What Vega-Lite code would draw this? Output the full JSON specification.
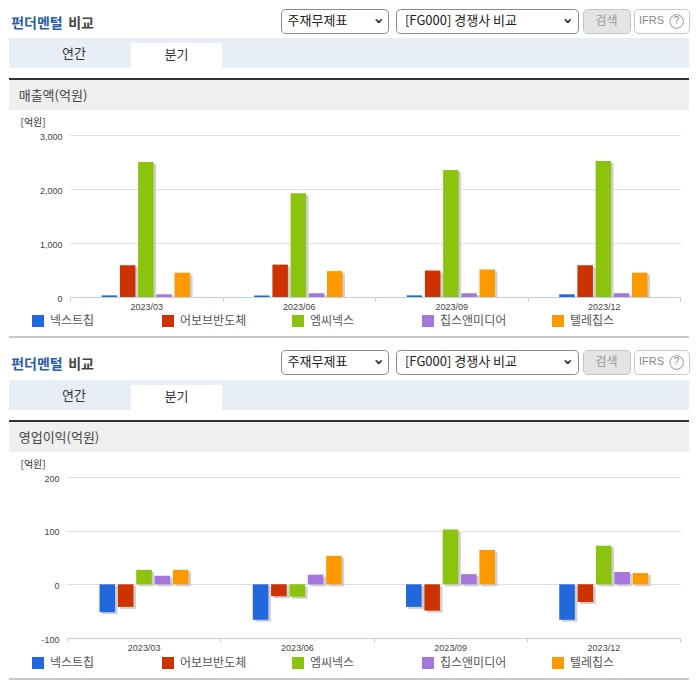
{"$schema":"https://vega.github.io/schema/vega-lite/v6.json","padding":0,"background":"white","spacing":0,"config":{"view":{"stroke":null},"concat":{"spacing":0},"text":{"font":"Noto Sans CJK KR","fontSize":1}},"datasets":{"blank":[{"t":""}],"sales":[{"q":"2023/03","company":"넥스트칩","value":30},{"q":"2023/03","company":"어보브반도체","value":590},{"q":"2023/03","company":"엠씨넥스","value":2500},{"q":"2023/03","company":"칩스앤미디어","value":50},{"q":"2023/03","company":"텔레칩스","value":450},{"q":"2023/06","company":"넥스트칩","value":30},{"q":"2023/06","company":"어보브반도체","value":600},{"q":"2023/06","company":"엠씨넥스","value":1920},{"q":"2023/06","company":"칩스앤미디어","value":70},{"q":"2023/06","company":"텔레칩스","value":480},{"q":"2023/09","company":"넥스트칩","value":30},{"q":"2023/09","company":"어보브반도체","value":490},{"q":"2023/09","company":"엠씨넥스","value":2350},{"q":"2023/09","company":"칩스앤미디어","value":70},{"q":"2023/09","company":"텔레칩스","value":510},{"q":"2023/12","company":"넥스트칩","value":50},{"q":"2023/12","company":"어보브반도체","value":590},{"q":"2023/12","company":"엠씨넥스","value":2520},{"q":"2023/12","company":"칩스앤미디어","value":70},{"q":"2023/12","company":"텔레칩스","value":450}],"profit":[{"q":"2023/03","company":"넥스트칩","value":-52},{"q":"2023/03","company":"어보브반도체","value":-42},{"q":"2023/03","company":"엠씨넥스","value":27},{"q":"2023/03","company":"칩스앤미디어","value":16},{"q":"2023/03","company":"텔레칩스","value":27},{"q":"2023/06","company":"넥스트칩","value":-66},{"q":"2023/06","company":"어보브반도체","value":-22},{"q":"2023/06","company":"엠씨넥스","value":-23},{"q":"2023/06","company":"칩스앤미디어","value":18},{"q":"2023/06","company":"텔레칩스","value":53},{"q":"2023/09","company":"넥스트칩","value":-42},{"q":"2023/09","company":"어보브반도체","value":-49},{"q":"2023/09","company":"엠씨넥스","value":102},{"q":"2023/09","company":"칩스앤미디어","value":19},{"q":"2023/09","company":"텔레칩스","value":64},{"q":"2023/12","company":"넥스트칩","value":-66},{"q":"2023/12","company":"어보브반도체","value":-33},{"q":"2023/12","company":"엠씨넥스","value":72},{"q":"2023/12","company":"칩스앤미디어","value":23},{"q":"2023/12","company":"텔레칩스","value":21}]},"vconcat":[{"width":696,"height":8,"data":{"name":"blank"},"mark":{"type":"text","text":""}},{"bounds":"flush","hconcat":[{"width":9,"height":24,"data":{"name":"blank"},"mark":{"type":"text","text":""}},{"width":56,"height":24,"data":{"name":"blank"},"mark":{"type":"text","text":"펀더멘털","fontSize":14,"fontWeight":"bold","color":"#2a5caa","dy":3}},{"width":32,"height":24,"data":{"name":"blank"},"mark":{"type":"text","text":"비교","fontSize":14,"fontWeight":"bold","color":"#444444","dy":3}},{"width":184,"height":24,"data":{"name":"blank"},"mark":{"type":"text","text":""}},{"width":107,"height":24,"view":{"fill":"white","stroke":"#8a8a8a","cornerRadius":4},"data":{"name":"blank"},"layer":[{"mark":{"type":"text","text":"주재무제표","fontSize":13,"color":"#222222","dx":-17}},{"mark":{"type":"text","text":"›","font":"DejaVu Sans","fontSize":16,"fontWeight":"bold","color":"#222222","angle":90,"dy":-44}}]},{"width":8,"height":24,"data":{"name":"blank"},"mark":{"type":"text","text":""}},{"width":182,"height":24,"view":{"fill":"white","stroke":"#8a8a8a","cornerRadius":4},"data":{"name":"blank"},"layer":[{"mark":{"type":"text","text":"[FG000] 경쟁사 비교","fontSize":13,"color":"#222222","dx":-26}},{"mark":{"type":"text","text":"›","font":"DejaVu Sans","fontSize":16,"fontWeight":"bold","color":"#222222","angle":90,"dy":-81}}]},{"width":5,"height":24,"data":{"name":"blank"},"mark":{"type":"text","text":""}},{"width":47,"height":24,"view":{"fill":"#e4e4e4","stroke":"#c4c4c4","cornerRadius":4},"data":{"name":"blank"},"mark":{"type":"text","text":"검색","fontSize":12,"color":"#999999"}},{"width":4,"height":24,"data":{"name":"blank"},"mark":{"type":"text","text":""}},{"width":55,"height":24,"view":{"fill":"white","stroke":"#c8c8c8","cornerRadius":4},"data":{"name":"blank"},"layer":[{"mark":{"type":"text","text":"IFRS","font":"Liberation Sans","fontSize":11,"color":"#888888","dx":-10}},{"mark":{"type":"text","text":"?","font":"Liberation Sans","fontSize":10,"color":"#888888","dx":15}},{"mark":{"type":"text","text":"◯","font":"DejaVu Sans","fontSize":14,"color":"#999999","dx":15}}]}]},{"width":696,"height":4,"data":{"name":"blank"},"mark":{"type":"text","text":""}},{"hconcat":[{"width":9,"height":30,"data":{"name":"blank"},"mark":{"type":"text","text":""}},{"width":122,"height":30,"view":{"fill":"#e7eef8"},"data":{"name":"blank"},"mark":{"type":"text","text":"연간","fontSize":13,"color":"#333333","dx":4,"dy":1}},{"vconcat":[{"width":91,"height":5,"view":{"fill":"#e7eef8"},"data":{"name":"blank"},"mark":{"type":"text","text":""}},{"width":91,"height":25,"view":{"fill":"white"},"data":{"name":"blank"},"mark":{"type":"text","text":"분기","fontSize":13,"color":"#333333","dy":-1}}]},{"width":467,"height":30,"view":{"fill":"#e7eef8"},"data":{"name":"blank"},"mark":{"type":"text","text":""}}]},{"width":696,"height":10,"data":{"name":"blank"},"mark":{"type":"text","text":""}},{"hconcat":[{"width":9,"height":32,"data":{"name":"blank"},"mark":{"type":"text","text":""}},{"vconcat":[{"width":680,"height":2,"view":{"fill":"#333333"},"data":{"name":"blank"},"mark":{"type":"text","text":""}},{"width":680,"height":30,"view":{"fill":"#efefef"},"data":{"name":"blank"},"mark":{"type":"text","text":"매출액(억원)","fontSize":13,"color":"#444444","dx":-296,"dy":1}}]}]},{"hconcat":[{"width":20,"height":226,"data":{"name":"blank"},"mark":{"type":"text","text":""}},{"bounds":"flush","vconcat":[{"width":610,"height":25,"data":{"name":"blank"},"mark":{"type":"text","text":""}},{"width":610,"height":162,"data":{"name":"sales"},"encoding":{"x":{"field":"q","type":"nominal","scale":{"paddingInner":0,"paddingOuter":0},"axis":{"title":null,"tickBand":"extent","labelAngle":0,"labelFont":"Liberation Sans","labelFontSize":9,"labelColor":"#444444","labelPadding":1,"tickSize":4,"tickColor":"#c0d0e0","domainColor":"#c0d0e0","grid":false}},"y":{"field":"value","type":"quantitative","scale":{"domain":[0,3000]},"axis":{"values":[0,1000,2000,3000],"format":",d","title":"[억원]","titleAngle":0,"titleFont":"Noto Sans CJK KR","titleFontSize":10,"titleFontWeight":"normal","titleColor":"#333333","titleAlign":"left","titleBaseline":"middle","titleX":-50,"titleY":-13,"labelFont":"Liberation Sans","labelFontSize":9,"labelColor":"#444444","labelPadding":8,"ticks":false,"domain":false,"grid":true,"gridColor":"#dddddd","labelOffset":1}}},"resolve":{"scale":{"xOffset":"independent"}},"layer":[{"mark":{"type":"bar","color":"#cfcfcf","clip":true,"yOffset":2},"encoding":{"xOffset":{"field":"company","type":"nominal","scale":{"domain":["넥스트칩","어보브반도체","엠씨넥스","칩스앤미디어","텔레칩스"],"paddingInner":0.15,"paddingOuter":0,"range":[34.2,122.5]}}}},{"mark":{"type":"bar"},"encoding":{"xOffset":{"field":"company","type":"nominal","scale":{"domain":["넥스트칩","어보브반도체","엠씨넥스","칩스앤미디어","텔레칩스"],"paddingInner":0.15,"paddingOuter":0,"range":[31.7,120]}},"color":{"field":"company","type":"nominal","scale":{"domain":["넥스트칩","어보브반도체","엠씨넥스","칩스앤미디어","텔레칩스"],"range":["#2168dd","#cc3300","#8cc40d","#a576dd","#ff9900"]},"legend":{"title":null,"orient":"none","legendX":32,"legendY":315,"direction":"horizontal","columns":5,"gridAlign":"all","columnPadding":45,"symbolType":"square","symbolSize":144,"symbolStrokeWidth":0,"symbolOpacity":1,"labelFont":"Noto Sans CJK KR","labelFontSize":12,"labelColor":"#555555","labelOffset":6,"labelLimit":100}}}}]},{"width":610,"height":39,"data":{"name":"blank"},"mark":{"type":"text","text":""}}]}]},{"hconcat":[{"width":9,"height":2,"data":{"name":"blank"},"mark":{"type":"text","text":""}},{"width":680,"height":2,"view":{"fill":"#c8c8c8"},"data":{"name":"blank"},"mark":{"type":"text","text":""}}]},{"width":696,"height":11,"data":{"name":"blank"},"mark":{"type":"text","text":""}},{"bounds":"flush","hconcat":[{"width":9,"height":24,"data":{"name":"blank"},"mark":{"type":"text","text":""}},{"width":56,"height":24,"data":{"name":"blank"},"mark":{"type":"text","text":"펀더멘털","fontSize":14,"fontWeight":"bold","color":"#2a5caa","dy":3}},{"width":32,"height":24,"data":{"name":"blank"},"mark":{"type":"text","text":"비교","fontSize":14,"fontWeight":"bold","color":"#444444","dy":3}},{"width":184,"height":24,"data":{"name":"blank"},"mark":{"type":"text","text":""}},{"width":107,"height":24,"view":{"fill":"white","stroke":"#8a8a8a","cornerRadius":4},"data":{"name":"blank"},"layer":[{"mark":{"type":"text","text":"주재무제표","fontSize":13,"color":"#222222","dx":-17}},{"mark":{"type":"text","text":"›","font":"DejaVu Sans","fontSize":16,"fontWeight":"bold","color":"#222222","angle":90,"dy":-44}}]},{"width":8,"height":24,"data":{"name":"blank"},"mark":{"type":"text","text":""}},{"width":182,"height":24,"view":{"fill":"white","stroke":"#8a8a8a","cornerRadius":4},"data":{"name":"blank"},"layer":[{"mark":{"type":"text","text":"[FG000] 경쟁사 비교","fontSize":13,"color":"#222222","dx":-26}},{"mark":{"type":"text","text":"›","font":"DejaVu Sans","fontSize":16,"fontWeight":"bold","color":"#222222","angle":90,"dy":-81}}]},{"width":5,"height":24,"data":{"name":"blank"},"mark":{"type":"text","text":""}},{"width":47,"height":24,"view":{"fill":"#e4e4e4","stroke":"#c4c4c4","cornerRadius":4},"data":{"name":"blank"},"mark":{"type":"text","text":"검색","fontSize":12,"color":"#999999"}},{"width":4,"height":24,"data":{"name":"blank"},"mark":{"type":"text","text":""}},{"width":55,"height":24,"view":{"fill":"white","stroke":"#c8c8c8","cornerRadius":4},"data":{"name":"blank"},"layer":[{"mark":{"type":"text","text":"IFRS","font":"Liberation Sans","fontSize":11,"color":"#888888","dx":-10}},{"mark":{"type":"text","text":"?","font":"Liberation Sans","fontSize":10,"color":"#888888","dx":15}},{"mark":{"type":"text","text":"◯","font":"DejaVu Sans","fontSize":14,"color":"#999999","dx":15}}]}]},{"width":696,"height":5,"data":{"name":"blank"},"mark":{"type":"text","text":""}},{"hconcat":[{"width":9,"height":30,"data":{"name":"blank"},"mark":{"type":"text","text":""}},{"width":122,"height":30,"view":{"fill":"#e7eef8"},"data":{"name":"blank"},"mark":{"type":"text","text":"연간","fontSize":13,"color":"#333333","dx":4,"dy":1}},{"vconcat":[{"width":91,"height":5,"view":{"fill":"#e7eef8"},"data":{"name":"blank"},"mark":{"type":"text","text":""}},{"width":91,"height":25,"view":{"fill":"white"},"data":{"name":"blank"},"mark":{"type":"text","text":"분기","fontSize":13,"color":"#333333","dy":-1}}]},{"width":467,"height":30,"view":{"fill":"#e7eef8"},"data":{"name":"blank"},"mark":{"type":"text","text":""}}]},{"width":696,"height":10,"data":{"name":"blank"},"mark":{"type":"text","text":""}},{"hconcat":[{"width":9,"height":32,"data":{"name":"blank"},"mark":{"type":"text","text":""}},{"vconcat":[{"width":680,"height":2,"view":{"fill":"#333333"},"data":{"name":"blank"},"mark":{"type":"text","text":""}},{"width":680,"height":30,"view":{"fill":"#efefef"},"data":{"name":"blank"},"mark":{"type":"text","text":"영업이익(억원)","fontSize":13,"color":"#444444","dx":-290,"dy":1}}]}]},{"hconcat":[{"width":20,"height":226,"data":{"name":"blank"},"mark":{"type":"text","text":""}},{"bounds":"flush","vconcat":[{"width":613,"height":25,"data":{"name":"blank"},"mark":{"type":"text","text":""}},{"width":613,"height":161,"data":{"name":"profit"},"encoding":{"x":{"field":"q","type":"nominal","scale":{"paddingInner":0,"paddingOuter":0},"axis":{"title":null,"tickBand":"extent","labelAngle":0,"labelFont":"Liberation Sans","labelFontSize":9,"labelColor":"#444444","labelPadding":1,"tickSize":4,"tickColor":"#c0d0e0","domainColor":"#c0d0e0","grid":false}},"y":{"field":"value","type":"quantitative","scale":{"domain":[-100,200]},"axis":{"values":[-100,0,100,200],"labelExpr":"datum.value<0?'-'+abs(datum.value):''+datum.value","title":"[억원]","titleAngle":0,"titleFont":"Noto Sans CJK KR","titleFontSize":10,"titleFontWeight":"normal","titleColor":"#333333","titleAlign":"left","titleBaseline":"middle","titleX":-47,"titleY":-13,"labelFont":"Liberation Sans","labelFontSize":9,"labelColor":"#444444","labelPadding":8,"ticks":false,"domain":false,"grid":true,"gridColor":"#dddddd","labelOffset":1}}},"resolve":{"scale":{"xOffset":"independent"}},"layer":[{"mark":{"type":"bar","color":"#cfcfcf","yOffset":2},"encoding":{"xOffset":{"field":"company","type":"nominal","scale":{"domain":["넥스트칩","어보브반도체","엠씨넥스","칩스앤미디어","텔레칩스"],"paddingInner":0.15,"paddingOuter":0,"range":[35,124]}}}},{"mark":{"type":"bar"},"encoding":{"xOffset":{"field":"company","type":"nominal","scale":{"domain":["넥스트칩","어보브반도체","엠씨넥스","칩스앤미디어","텔레칩스"],"paddingInner":0.15,"paddingOuter":0,"range":[32.5,121.5]}},"fill":{"field":"company","type":"nominal","sort":null,"scale":{"range":["#2168dd","#cc3300","#8cc40d","#a576dd","#ff9900"]},"legend":{"title":null,"orient":"none","legendX":32,"legendY":657,"direction":"horizontal","columns":5,"gridAlign":"all","columnPadding":45,"symbolType":"square","symbolSize":144,"symbolStrokeWidth":0,"symbolOpacity":1,"labelFont":"Noto Sans CJK KR","labelFontSize":12,"labelColor":"#555555","labelOffset":6,"labelLimit":100}}}}]},{"width":613,"height":39,"data":{"name":"blank"},"mark":{"type":"text","text":""}}]}]},{"hconcat":[{"width":9,"height":2,"data":{"name":"blank"},"mark":{"type":"text","text":""}},{"width":680,"height":2,"view":{"fill":"#c8c8c8"},"data":{"name":"blank"},"mark":{"type":"text","text":""}}]}]}
